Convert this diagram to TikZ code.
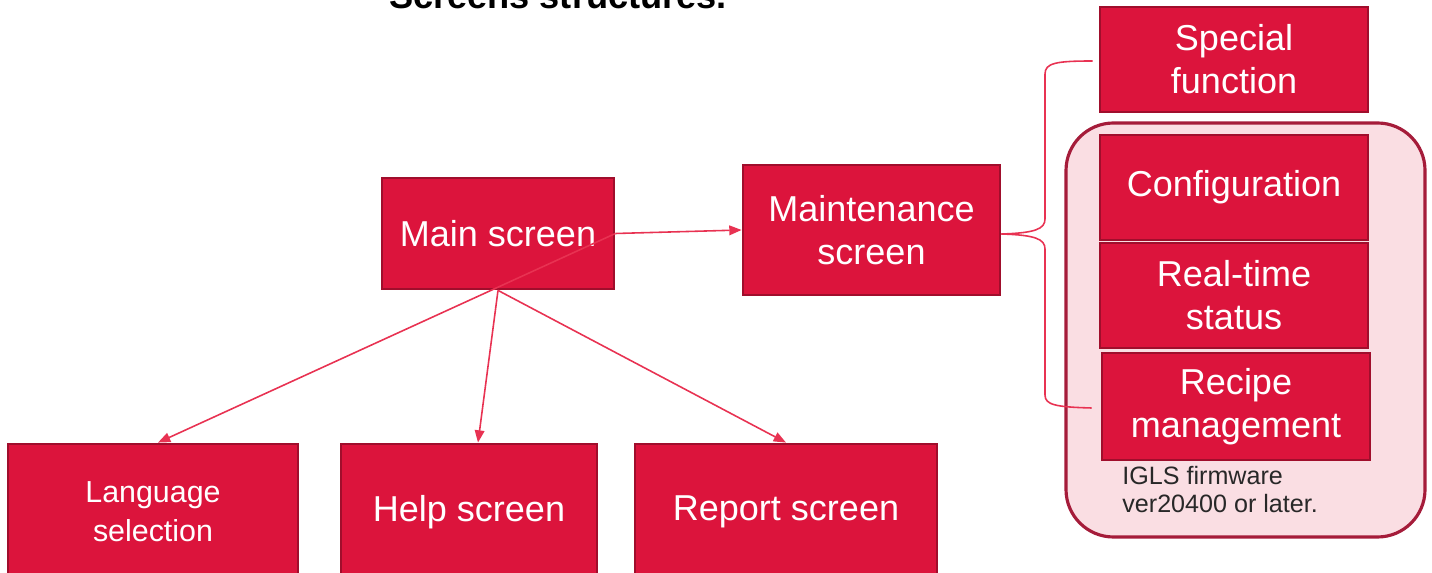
\documentclass[tikz,border=0pt]{standalone}
\usepackage{fontspec}
\setmainfont{Liberation Sans}
\usetikzlibrary{arrows.meta}
\definecolor{boxfill}{RGB}{220,20,60}
\definecolor{boxedge}{RGB}{160,14,44}
\definecolor{linecol}{RGB}{232,50,82}
\definecolor{contfill}{RGB}{250,222,227}
\definecolor{contedge}{RGB}{165,28,58}
\definecolor{notecol}{RGB}{40,40,40}
\tikzset{
  screenbox/.style={draw=boxedge, line width=1.6pt, fill=boxfill, text=white,
    align=center, inner sep=0pt, font=\fontsize{20.5}{24.6}\selectfont},
  smallbox/.style={screenbox, font=\fontsize{17.3}{22}\selectfont},
  container/.style={draw=contedge, line width=1.8pt, fill=contfill,
    rounded corners=0.95cm, inner sep=0pt},
  conn/.style={draw=linecol, line width=0.9pt,
    -{Triangle[length=7pt,width=5.5pt]}},
  bracket/.style={draw=linecol, line width=0.9pt},
}
\begin{document}
\begin{tikzpicture}[x=0.02cm,y=-0.02cm]
\useasboundingbox (0,0) rectangle (1432,573);
% title (partly cut off at the top)
\node[anchor=base, inner sep=0pt, font=\fontsize{20.6}{24}\selectfont\bfseries] (title) at (558,9) {Screens structures.};
% container
\node[container, minimum width={359*0.02cm}, minimum height={414*0.02cm}] (group) at (1245.5,330) {};
% boxes
\node[screenbox, minimum width={232*0.02cm}, minimum height={111*0.02cm}] (main) at (498,233.5) {Main screen};
\node[screenbox, minimum width={257*0.02cm}, minimum height={130*0.02cm}] (maint) at (871.5,230) {Maintenance\\screen};
\node[screenbox, minimum width={268*0.02cm}, minimum height={105*0.02cm}] (special) at (1234,59.5) {Special\\function};
\node[screenbox, minimum width={268*0.02cm}, minimum height={105*0.02cm}] (config) at (1234,187.5) {Configuration};
\node[screenbox, minimum width={268*0.02cm}, minimum height={105*0.02cm}] (realtime) at (1234,295.5) {Real-time\\status};
\node[screenbox, minimum width={268*0.02cm}, minimum height={107*0.02cm}] (recipe) at (1236,406.5) {Recipe\\management};
\node[smallbox, minimum width={290*0.02cm}, minimum height={136*0.02cm}] (lang) at (153,512) {Language\\selection};
\node[screenbox, minimum width={256*0.02cm}, minimum height={136*0.02cm}] (help) at (469,512) {Help screen};
\node[screenbox, minimum width={302*0.02cm}, minimum height={136*0.02cm}] (report) at (786,512) {Report screen};
% note
\node[anchor=base west, align=left, inner sep=0pt, text=notecol, font=\fontsize{14.3}{16}\selectfont] (note) at (1122,513) {IGLS firmware\\ver20400 or later.};
% connectors
\draw[conn] (main.east) -- (maint.west);
\draw[conn] (main.east) -- ([xshift=0.1cm]lang.north);
\draw[conn] (main.south) -- ([xshift=0.18cm]help.north);
\draw[conn] (main.south) -- (report.north);
% bracket
\coordinate (bt) at ([yshift=-0.08cm]maint.east);
\coordinate (sfL) at ([xshift=-0.12cm,yshift=-0.03cm]special.west);
\coordinate (rmL) at ([xshift=-0.18cm,yshift=-0.03cm]recipe.west);
\draw[bracket] (sfL) .. controls (1056,61) and (1045,63) .. (1045,74)
  -- (1045,219) .. controls (1045,229) and (1035,233) .. (bt);
\draw[bracket] (bt) .. controls (1035,235) and (1045,239) .. (1045,249)
  -- (1045,395) .. controls (1045,405) and (1056,407) .. (rmL);
\end{tikzpicture}
\end{document}
